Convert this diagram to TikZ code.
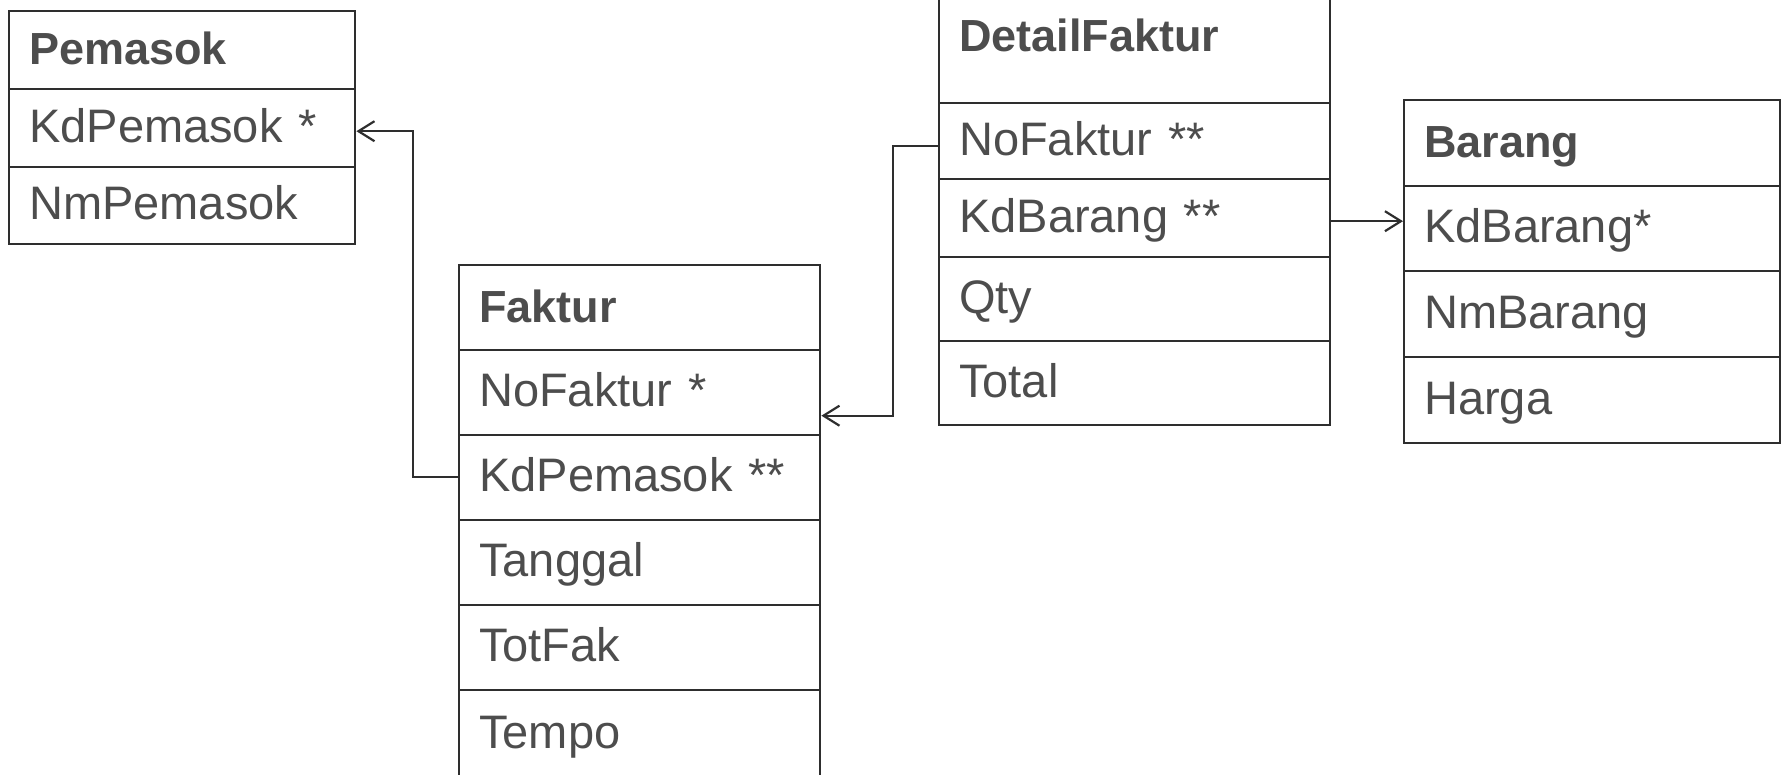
\documentclass[tikz,border=0pt]{standalone}
\usepackage{fontspec}
\setmainfont{Liberation Sans}
\usetikzlibrary{arrows.meta,calc}
\definecolor{linec}{HTML}{2E2E2E}
\definecolor{textc}{HTML}{4D4D4D}
\tikzset{
  cell/.style={draw=linec, line width=2.4pt, rectangle, anchor=north west,
    inner xsep=20pt, inner ysep=0pt, text width=#1-40pt, align=left,
    minimum width=#1, text height=28pt, text depth=0pt, text=textc,
    font=\fontsize{47}{56}\selectfont},
  title/.style={cell=#1, font=\fontsize{45}{54}\selectfont\bfseries, text height=29pt},
  arr/.style={draw=linec, line width=2.2pt, -{Straight Barb[length=16pt,width=20pt,line width=2.2pt]}},
  conn/.style={draw=linec, line width=2.2pt}
}
\begin{document}
\begin{tikzpicture}[x=1pt,y=-1pt]
\useasboundingbox (0,0) rectangle (1785,775);
% Pemasok
\node[title=346pt, minimum height=78pt] (pmT) at (8,10) {Pemasok};
\node[cell=346pt, minimum height=78pt] (pmKd) at (8,88) {KdPemasok *};
\node[cell=346pt, minimum height=77pt] (pmNm) at (8,166) {NmPemasok};
% Faktur
\node[title=361pt, minimum height=85pt] (fkT) at (458,264) {Faktur};
\node[cell=361pt, minimum height=85pt] (fkNo) at (458,349) {NoFaktur *};
\node[cell=361pt, minimum height=85pt] (fkKd) at (458,434) {KdPemasok **};
\node[cell=361pt, minimum height=85pt] (fkTg) at (458,519) {Tanggal};
\node[cell=361pt, minimum height=85pt] (fkTot) at (458,604) {TotFak};
\node[cell=361pt, minimum height=88pt] (fkTmp) at (458,689) {Tempo};
% DetailFaktur
\node[title=391pt, minimum height=105pt, text height=30pt, text depth=29pt] (dfT) at (938,-3) {DetailFaktur};
\node[cell=391pt, minimum height=76pt] (dfNo) at (938,102) {NoFaktur **};
\node[cell=391pt, minimum height=78pt] (dfKd) at (938,178) {KdBarang **};
\node[cell=391pt, minimum height=84pt] (dfQ) at (938,256) {Qty};
\node[cell=391pt, minimum height=84pt] (dfTot) at (938,340) {Total};
% Barang
\node[title=376pt, minimum height=86pt] (bT) at (1403,99) {Barang};
\node[cell=376pt, minimum height=85pt] (bKd) at (1403,185) {KdBarang*};
\node[cell=376pt, minimum height=86pt] (bNm) at (1403,270) {NmBarang};
\node[cell=376pt, minimum height=86pt] (bH) at (1403,356) {Harga};
% connectors
\draw[arr] ([yshift=1pt]fkKd.west) -- ++(-45,0) |- ([yshift=-3pt]pmKd.east);
\draw[arr] ([yshift=-5pt]dfNo.west) -- ++(-45,0) |- ([yshift=-23pt]fkNo.east);
\draw[arr] ([yshift=-3pt]dfKd.east) -- ([yshift=-3pt]dfKd.east -| bKd.west);
\end{tikzpicture}
\end{document}
